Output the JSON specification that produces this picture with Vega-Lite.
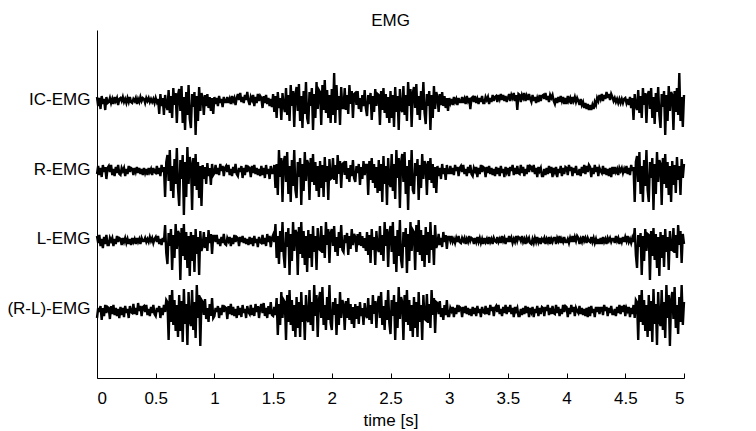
{
"$schema":"https://vega.github.io/schema/vega-lite/v6.json",
"width":587,"height":348,"autosize":"none",
"padding":{"left":97,"top":30,"right":72,"bottom":53},
"background":"white",
"title":{"text":"EMG","fontSize":17,"fontWeight":"normal","font":"Liberation Sans","color":"black","offset":0},
"config":{"view":{"stroke":null},
"axisX":{"domainColor":"black","tickColor":"black","tickSize":-5,"labelPadding":17,"labelFontSize":17,"labelFont":"Liberation Sans","labelColor":"black","titleFont":"Liberation Sans","titleFontSize":17,"titleFontWeight":"normal","titleColor":"black","grid":false,"values":[0,0.5,1,1.5,2,2.5,3,3.5,4,4.5,5],"format":"~g","titlePadding":6},
"axisY":{"domainColor":"black","ticks":false,"labelPadding":7,"labelFontSize":17,"labelFont":"Liberation Sans","labelColor":"black","grid":false}},
"datasets":{
"ch":[{"name":"IC-EMG"},{"name":"R-EMG"},{"name":"L-EMG"},{"name":"(R-L)-EMG"}],
"emg":[
{"t":0.00,"ic":0.3,"r":-0.4,"l":0.4,"rl":-0.8},
{"t":0.01,"ic":-0.6,"r":0.4,"l":-0.3,"rl":0.2},
{"t":0.02,"ic":0.2,"r":-0.5,"l":0.5,"rl":-0.2},
{"t":0.03,"ic":-0.9,"r":0.2,"l":-0.6,"rl":0.4},
{"t":0.04,"ic":0.4,"r":-0.7,"l":0.1,"rl":-1.0},
{"t":0.05,"ic":-0.4,"r":0.5,"l":-0.8,"rl":0.2},
{"t":0.06,"ic":0.1,"r":-0.2,"l":0.3,"rl":-0.6},
{"t":0.07,"ic":-1.0,"r":0.3,"l":-0.4,"rl":0.5},
{"t":0.08,"ic":0.3,"r":-0.9,"l":0.5,"rl":-0.3},
{"t":0.09,"ic":-0.3,"r":0.2,"l":-0.5,"rl":0.3},
{"t":0.10,"ic":-0.2,"r":0.4,"l":-0.5,"rl":0.2},
{"t":0.11,"ic":0.2,"r":-0.2,"l":0.2,"rl":-0.9},
{"t":0.12,"ic":-0.3,"r":0.5,"l":-0.1,"rl":0.4},
{"t":0.13,"ic":0.1,"r":-0.5,"l":0.2,"rl":-0.4},
{"t":0.14,"ic":-0.4,"r":0.1,"l":-0.6,"rl":0.5},
{"t":0.15,"ic":0.3,"r":-0.6,"l":0.1,"rl":-0.5},
{"t":0.16,"ic":-0.1,"r":0.3,"l":-0.4,"rl":0.2},
{"t":0.17,"ic":0.2,"r":-0.3,"l":0.4,"rl":-0.6},
{"t":0.18,"ic":-0.5,"r":0.5,"l":-0.2,"rl":0.1},
{"t":0.19,"ic":0.1,"r":-0.4,"l":0.2,"rl":-0.8},
{"t":0.20,"ic":0.2,"r":-0.5,"l":0.1,"rl":0.3},
{"t":0.21,"ic":-0.1,"r":0.2,"l":-0.5,"rl":-0.5},
{"t":0.22,"ic":0.3,"r":-0.1,"l":0.2,"rl":0.2},
{"t":0.23,"ic":-0.2,"r":0.2,"l":-0.2,"rl":-0.7},
{"t":0.24,"ic":0.1,"r":-0.6,"l":0.2,"rl":0.4},
{"t":0.25,"ic":-0.3,"r":0.1,"l":-0.3,"rl":-0.3},
{"t":0.26,"ic":0.2,"r":-0.4,"l":0.1,"rl":0.1},
{"t":0.27,"ic":-0.2,"r":0.4,"l":-0.4,"rl":-0.8},
{"t":0.28,"ic":0.3,"r":-0.2,"l":0.1,"rl":0.4},
{"t":0.29,"ic":-0.2,"r":0.2,"l":-0.5,"rl":-0.2},
{"t":0.30,"ic":-0.3,"r":0.1,"l":0.2,"rl":-0.3},
{"t":0.31,"ic":0.1,"r":-0.5,"l":-0.2,"rl":0.6},
{"t":0.32,"ic":-0.1,"r":0.2,"l":0.1,"rl":-0.4},
{"t":0.33,"ic":0.2,"r":-0.2,"l":-0.4,"rl":0.2},
{"t":0.34,"ic":-0.4,"r":0.3,"l":0.2,"rl":-0.5},
{"t":0.35,"ic":0.1,"r":-0.3,"l":-0.2,"rl":0.7},
{"t":0.36,"ic":-0.2,"r":0.2,"l":0.1,"rl":-0.1},
{"t":0.37,"ic":0.3,"r":-0.4,"l":-0.4,"rl":0.4},
{"t":0.38,"ic":-0.1,"r":0.1,"l":0.2,"rl":-0.6},
{"t":0.39,"ic":0.2,"r":-0.5,"l":-0.1,"rl":0.3},
{"t":0.40,"ic":0.1,"r":0.2,"l":-0.1,"rl":0.4},
{"t":0.41,"ic":-0.3,"r":-0.3,"l":0.2,"rl":-0.2},
{"t":0.42,"ic":0.2,"r":0.1,"l":-0.2,"rl":0.5},
{"t":0.43,"ic":-0.1,"r":-0.5,"l":0.1,"rl":-0.5},
{"t":0.44,"ic":0.2,"r":0.2,"l":-0.2,"rl":0.1},
{"t":0.45,"ic":-0.2,"r":-0.2,"l":0.3,"rl":-0.6},
{"t":0.46,"ic":0.1,"r":0.1,"l":-0.1,"rl":0.3},
{"t":0.47,"ic":-0.2,"r":-0.5,"l":0.2,"rl":-0.3},
{"t":0.48,"ic":0.1,"r":0.2,"l":-0.3,"rl":0.5},
{"t":0.49,"ic":-0.3,"r":-0.2,"l":0.1,"rl":-0.4},
{"t":0.50,"ic":0.2,"r":-0.3,"l":0.3,"rl":-0.6},
{"t":0.51,"ic":-0.2,"r":0.4,"l":-0.2,"rl":0.2},
{"t":0.52,"ic":0.1,"r":-0.4,"l":0.4,"rl":-0.2},
{"t":0.53,"ic":-1.4,"r":0.2,"l":-0.4,"rl":0.4},
{"t":0.54,"ic":0.6,"r":-0.6,"l":0.1,"rl":-0.8},
{"t":0.55,"ic":-0.6,"r":0.5,"l":-0.5,"rl":0.2},
{"t":0.56,"ic":0.2,"r":-0.2,"l":0.2,"rl":-0.5},
{"t":0.57,"ic":-1.5,"r":0.3,"l":-0.2,"rl":0.5},
{"t":0.58,"ic":0.5,"r":-2.7,"l":1.5,"rl":-0.2},
{"t":0.59,"ic":-0.5,"r":0.8,"l":-1.3,"rl":1.0},
{"t":0.60,"ic":-1.0,"r":1.5,"l":-2.4,"rl":0.8},
{"t":0.61,"ic":1.0,"r":-1.1,"l":0.7,"rl":-3.0},
{"t":0.62,"ic":-1.3,"r":2.0,"l":-0.6,"rl":1.5},
{"t":0.63,"ic":0.4,"r":-2.1,"l":1.1,"rl":-1.2},
{"t":0.64,"ic":-1.8,"r":0.4,"l":-3.0,"rl":2.0},
{"t":0.65,"ic":1.2,"r":-2.8,"l":0.5,"rl":-1.5},
{"t":0.66,"ic":-0.5,"r":1.1,"l":-1.8,"rl":1.0},
{"t":0.67,"ic":0.7,"r":-1.4,"l":1.6,"rl":-2.1},
{"t":0.68,"ic":-2.3,"r":2.2,"l":-0.9,"rl":0.5},
{"t":0.69,"ic":0.5,"r":-1.8,"l":0.9,"rl":-2.7},
{"t":0.70,"ic":1.1,"r":-3.6,"l":0.6,"rl":1.5},
{"t":0.71,"ic":-1.1,"r":1.0,"l":-4.0,"rl":-2.1},
{"t":0.72,"ic":1.4,"r":-0.9,"l":1.2,"rl":0.9},
{"t":0.73,"ic":-2.3,"r":1.5,"l":-1.6,"rl":-3.2},
{"t":0.74,"ic":0.3,"r":-4.5,"l":1.6,"rl":2.1},
{"t":0.75,"ic":-3.0,"r":0.8,"l":-2.0,"rl":-1.4},
{"t":0.76,"ic":0.8,"r":-2.7,"l":0.8,"rl":0.6},
{"t":0.77,"ic":-1.5,"r":2.3,"l":-2.8,"rl":-3.5},
{"t":0.78,"ic":1.5,"r":-1.4,"l":0.4,"rl":1.8},
{"t":0.79,"ic":-1.9,"r":1.3,"l":-3.6,"rl":-1.1},
{"t":0.80,"ic":-2.8,"r":0.6,"l":0.8,"rl":-1.6},
{"t":0.81,"ic":0.6,"r":-4.0,"l":-2.1,"rl":2.0},
{"t":0.82,"ic":-0.7,"r":1.2,"l":0.5,"rl":-2.0},
{"t":0.83,"ic":0.8,"r":-1.6,"l":-3.2,"rl":0.8},
{"t":0.84,"ic":-3.5,"r":1.6,"l":1.1,"rl":-2.8},
{"t":0.85,"ic":0.4,"r":-2.0,"l":-1.4,"rl":2.5},
{"t":0.86,"ic":-2.1,"r":0.8,"l":0.3,"rl":-0.8},
{"t":0.87,"ic":1.3,"r":-2.8,"l":-3.5,"rl":1.5},
{"t":0.88,"ic":-1.1,"r":0.4,"l":0.9,"rl":-3.6},
{"t":0.89,"ic":0.7,"r":-3.6,"l":-1.1,"rl":1.0},
{"t":0.90,"ic":0.2,"r":0.5,"l":-0.6,"rl":0.8},
{"t":0.91,"ic":-1.5,"r":-0.9,"l":0.8,"rl":-0.5},
{"t":0.92,"ic":0.5,"r":0.3,"l":-0.8,"rl":1.1},
{"t":0.93,"ic":-0.6,"r":-1.4,"l":0.3,"rl":-0.9},
{"t":0.94,"ic":0.6,"r":0.7,"l":-1.1,"rl":0.2},
{"t":0.95,"ic":-0.8,"r":-0.6,"l":1.0,"rl":-1.2},
{"t":0.96,"ic":0.3,"r":0.2,"l":-0.3,"rl":0.6},
{"t":0.97,"ic":-1.1,"r":-1.5,"l":0.6,"rl":-0.6},
{"t":0.98,"ic":0.2,"r":0.6,"l":-1.4,"rl":1.2},
{"t":0.99,"ic":-1.4,"r":-0.5,"l":0.4,"rl":-0.8},
{"t":1.00,"ic":0.3,"r":-0.3,"l":0.4,"rl":-0.6},
{"t":1.01,"ic":-0.4,"r":0.5,"l":-0.2,"rl":0.2},
{"t":1.02,"ic":0.2,"r":-0.4,"l":0.5,"rl":-0.2},
{"t":1.03,"ic":-0.6,"r":0.2,"l":-0.4,"rl":0.4},
{"t":1.04,"ic":0.4,"r":-0.5,"l":0.1,"rl":-0.8},
{"t":1.05,"ic":-0.3,"r":0.6,"l":-0.6,"rl":0.2},
{"t":1.06,"ic":0.1,"r":-0.1,"l":0.3,"rl":-0.5},
{"t":1.07,"ic":-0.7,"r":0.4,"l":-0.3,"rl":0.5},
{"t":1.08,"ic":0.3,"r":-0.6,"l":0.6,"rl":-0.2},
{"t":1.09,"ic":-0.2,"r":0.2,"l":-0.4,"rl":0.3},
{"t":1.10,"ic":-0.2,"r":0.4,"l":-0.5,"rl":0.2},
{"t":1.11,"ic":0.3,"r":-0.2,"l":0.2,"rl":-0.9},
{"t":1.12,"ic":-0.3,"r":0.5,"l":-0.1,"rl":0.4},
{"t":1.13,"ic":0.1,"r":-0.5,"l":0.3,"rl":-0.4},
{"t":1.14,"ic":-0.4,"r":0.1,"l":-0.6,"rl":0.6},
{"t":1.15,"ic":0.4,"r":-0.6,"l":0.2,"rl":-0.5},
{"t":1.16,"ic":-0.1,"r":0.3,"l":-0.4,"rl":0.3},
{"t":1.17,"ic":0.2,"r":-0.3,"l":0.5,"rl":-0.6},
{"t":1.18,"ic":-0.5,"r":0.6,"l":-0.2,"rl":0.1},
{"t":1.19,"ic":0.2,"r":-0.4,"l":0.3,"rl":-0.8},
{"t":1.20,"ic":0.6,"r":-0.6,"l":0.2,"rl":0.4},
{"t":1.21,"ic":0.0,"r":0.2,"l":-0.6,"rl":-0.5},
{"t":1.22,"ic":0.7,"r":-0.2,"l":0.3,"rl":0.2},
{"t":1.23,"ic":-0.2,"r":0.4,"l":-0.2,"rl":-0.7},
{"t":1.24,"ic":0.3,"r":-0.8,"l":0.4,"rl":0.5},
{"t":1.25,"ic":-0.3,"r":0.2,"l":-0.3,"rl":-0.3},
{"t":1.26,"ic":0.5,"r":-0.5,"l":0.2,"rl":0.1},
{"t":1.27,"ic":0.0,"r":0.5,"l":-0.4,"rl":-0.8},
{"t":1.28,"ic":0.8,"r":-0.2,"l":0.1,"rl":0.4},
{"t":1.29,"ic":-0.1,"r":0.3,"l":-0.5,"rl":-0.2},
{"t":1.30,"ic":-0.5,"r":0.2,"l":0.3,"rl":-0.4},
{"t":1.31,"ic":0.3,"r":-0.7,"l":-0.4,"rl":0.5},
{"t":1.32,"ic":0.0,"r":0.4,"l":0.2,"rl":-0.5},
{"t":1.33,"ic":0.5,"r":-0.3,"l":-0.6,"rl":0.2},
{"t":1.34,"ic":-0.6,"r":0.5,"l":0.4,"rl":-0.6},
{"t":1.35,"ic":0.3,"r":-0.4,"l":-0.3,"rl":0.6},
{"t":1.36,"ic":-0.3,"r":0.2,"l":0.1,"rl":-0.2},
{"t":1.37,"ic":0.6,"r":-0.5,"l":-0.7,"rl":0.4},
{"t":1.38,"ic":-0.1,"r":0.1,"l":0.3,"rl":-0.8},
{"t":1.39,"ic":0.4,"r":-0.6,"l":-0.2,"rl":0.2},
{"t":1.40,"ic":0.2,"r":0.4,"l":-0.3,"rl":0.6},
{"t":1.41,"ic":-0.8,"r":-0.5,"l":0.5,"rl":-0.3},
{"t":1.42,"ic":0.4,"r":0.2,"l":-0.4,"rl":0.7},
{"t":1.43,"ic":-0.3,"r":-0.8,"l":0.2,"rl":-0.6},
{"t":1.44,"ic":0.5,"r":0.5,"l":-0.6,"rl":0.2},
{"t":1.45,"ic":-0.4,"r":-0.4,"l":0.6,"rl":-0.8},
{"t":1.46,"ic":0.2,"r":0.1,"l":-0.2,"rl":0.4},
{"t":1.47,"ic":-0.6,"r":-0.9,"l":0.4,"rl":-0.4},
{"t":1.48,"ic":0.1,"r":0.4,"l":-0.7,"rl":0.8},
{"t":1.49,"ic":-0.7,"r":-0.3,"l":0.2,"rl":-0.5},
{"t":1.50,"ic":0.6,"r":-0.3,"l":0.5,"rl":-0.6},
{"t":1.51,"ic":-1.2,"r":0.5,"l":-0.2,"rl":0.3},
{"t":1.52,"ic":0.4,"r":-1.8,"l":1.6,"rl":-0.5},
{"t":1.53,"ic":-1.8,"r":0.6,"l":-1.8,"rl":1.2},
{"t":1.54,"ic":0.8,"r":-2.5,"l":0.4,"rl":-2.5},
{"t":1.55,"ic":-0.8,"r":2.0,"l":-2.4,"rl":0.6},
{"t":1.56,"ic":0.2,"r":-0.7,"l":0.9,"rl":-1.5},
{"t":1.57,"ic":-2.0,"r":1.2,"l":-1.2,"rl":1.8},
{"t":1.58,"ic":0.7,"r":-3.2,"l":1.8,"rl":-0.8},
{"t":1.59,"ic":-0.6,"r":0.8,"l":-1.5,"rl":1.0},
{"t":1.60,"ic":-1.2,"r":1.4,"l":-2.8,"rl":0.8},
{"t":1.61,"ic":1.2,"r":-1.2,"l":0.8,"rl":-3.0},
{"t":1.62,"ic":-1.5,"r":1.8,"l":-0.7,"rl":1.5},
{"t":1.63,"ic":0.5,"r":-2.4,"l":1.2,"rl":-1.2},
{"t":1.64,"ic":-2.1,"r":0.4,"l":-3.5,"rl":2.0},
{"t":1.65,"ic":1.5,"r":-3.2,"l":0.6,"rl":-1.5},
{"t":1.66,"ic":-0.6,"r":1.0,"l":-2.1,"rl":1.0},
{"t":1.67,"ic":0.9,"r":-1.6,"l":1.8,"rl":-2.1},
{"t":1.68,"ic":-2.7,"r":2.0,"l":-1.1,"rl":0.5},
{"t":1.69,"ic":0.6,"r":-2.0,"l":1.0,"rl":-2.7},
{"t":1.70,"ic":1.3,"r":-2.8,"l":0.7,"rl":1.3},
{"t":1.71,"ic":-1.1,"r":0.8,"l":-3.5,"rl":-1.8},
{"t":1.72,"ic":1.6,"r":-0.7,"l":1.3,"rl":0.8},
{"t":1.73,"ic":-2.1,"r":1.2,"l":-1.4,"rl":-2.7},
{"t":1.74,"ic":0.4,"r":-3.5,"l":1.8,"rl":1.8},
{"t":1.75,"ic":-2.8,"r":0.6,"l":-1.8,"rl":-1.2},
{"t":1.76,"ic":0.9,"r":-2.1,"l":0.9,"rl":0.5},
{"t":1.77,"ic":-1.4,"r":1.8,"l":-2.5,"rl":-3.0},
{"t":1.78,"ic":1.8,"r":-1.1,"l":0.4,"rl":1.5},
{"t":1.79,"ic":-1.8,"r":1.0,"l":-3.2,"rl":-0.9},
{"t":1.80,"ic":-2.4,"r":0.6,"l":1.0,"rl":-1.2},
{"t":1.81,"ic":0.8,"r":-3.0,"l":-1.8,"rl":2.0},
{"t":1.82,"ic":-0.6,"r":1.2,"l":0.6,"rl":-1.5},
{"t":1.83,"ic":1.2,"r":-1.2,"l":-2.7,"rl":0.8},
{"t":1.84,"ic":-3.0,"r":1.6,"l":1.4,"rl":-2.1},
{"t":1.85,"ic":0.6,"r":-1.5,"l":-1.2,"rl":2.5},
{"t":1.86,"ic":-1.8,"r":0.8,"l":0.4,"rl":-0.6},
{"t":1.87,"ic":1.8,"r":-2.1,"l":-3.0,"rl":1.5},
{"t":1.88,"ic":-0.9,"r":0.4,"l":1.2,"rl":-2.7},
{"t":1.89,"ic":1.0,"r":-2.7,"l":-0.9,"rl":1.0},
{"t":1.90,"ic":0.8,"r":0.9,"l":-1.0,"rl":1.8},
{"t":1.91,"ic":-2.5,"r":-1.8,"l":1.4,"rl":-0.8},
{"t":1.92,"ic":1.5,"r":0.5,"l":-1.3,"rl":2.3},
{"t":1.93,"ic":-1.0,"r":-2.7,"l":0.5,"rl":-1.5},
{"t":1.94,"ic":2.0,"r":1.3,"l":-1.8,"rl":0.5},
{"t":1.95,"ic":-1.3,"r":-1.2,"l":1.8,"rl":-2.0},
{"t":1.96,"ic":1.0,"r":0.4,"l":-0.5,"rl":1.3},
{"t":1.97,"ic":-1.8,"r":-3.0,"l":1.1,"rl":-1.0},
{"t":1.98,"ic":0.5,"r":1.1,"l":-2.3,"rl":2.5},
{"t":1.99,"ic":-2.3,"r":-0.9,"l":0.7,"rl":-1.3},
{"t":2.00,"ic":1.1,"r":-0.8,"l":1.1,"rl":-2.0},
{"t":2.01,"ic":-1.5,"r":1.2,"l":-0.6,"rl":0.8},
{"t":2.02,"ic":2.7,"r":-1.0,"l":1.4,"rl":-0.5},
{"t":2.03,"ic":-2.3,"r":0.5,"l":-1.2,"rl":1.2},
{"t":2.04,"ic":1.5,"r":-1.4,"l":0.3,"rl":-2.5},
{"t":2.05,"ic":-1.0,"r":1.5,"l":-1.6,"rl":0.6},
{"t":2.06,"ic":0.4,"r":-0.4,"l":0.8,"rl":-1.5},
{"t":2.07,"ic":-2.5,"r":0.9,"l":-0.8,"rl":1.8},
{"t":2.08,"ic":1.3,"r":-1.8,"l":1.5,"rl":-0.8},
{"t":2.09,"ic":-0.8,"r":0.6,"l":-1.0,"rl":1.0},
{"t":2.10,"ic":-0.8,"r":0.7,"l":-1.2,"rl":0.5},
{"t":2.11,"ic":1.2,"r":-0.5,"l":0.5,"rl":-2.0},
{"t":2.12,"ic":-1.0,"r":0.9,"l":-0.3,"rl":0.9},
{"t":2.13,"ic":0.5,"r":-0.9,"l":0.7,"rl":-0.8},
{"t":2.14,"ic":-1.4,"r":0.2,"l":-1.5,"rl":1.2},
{"t":2.15,"ic":1.5,"r":-1.2,"l":0.4,"rl":-1.0},
{"t":2.16,"ic":-0.4,"r":0.5,"l":-0.9,"rl":0.6},
{"t":2.17,"ic":0.9,"r":-0.6,"l":1.1,"rl":-1.4},
{"t":2.18,"ic":-1.8,"r":1.0,"l":-0.5,"rl":0.3},
{"t":2.19,"ic":0.6,"r":-0.8,"l":0.6,"rl":-1.8},
{"t":2.20,"ic":0.7,"r":-1.2,"l":0.3,"rl":0.6},
{"t":2.21,"ic":-0.5,"r":0.4,"l":-1.2,"rl":-0.9},
{"t":2.22,"ic":0.9,"r":-0.3,"l":0.6,"rl":0.4},
{"t":2.23,"ic":-0.9,"r":0.6,"l":-0.5,"rl":-1.4},
{"t":2.24,"ic":0.2,"r":-1.5,"l":0.8,"rl":0.8},
{"t":2.25,"ic":-1.2,"r":0.3,"l":-0.6,"rl":-0.6},
{"t":2.26,"ic":0.5,"r":-0.9,"l":0.4,"rl":0.2},
{"t":2.27,"ic":-0.6,"r":0.9,"l":-0.8,"rl":-1.5},
{"t":2.28,"ic":1.0,"r":-0.5,"l":0.2,"rl":0.7},
{"t":2.29,"ic":-0.8,"r":0.5,"l":-1.1,"rl":-0.5},
{"t":2.30,"ic":-1.6,"r":0.5,"l":0.8,"rl":-0.8},
{"t":2.31,"ic":0.5,"r":-2.5,"l":-1.5,"rl":1.2},
{"t":2.32,"ic":-0.4,"r":0.9,"l":0.5,"rl":-1.0},
{"t":2.33,"ic":0.7,"r":-1.0,"l":-2.3,"rl":0.5},
{"t":2.34,"ic":-2.0,"r":1.2,"l":1.1,"rl":-1.4},
{"t":2.35,"ic":0.4,"r":-1.3,"l":-1.0,"rl":1.5},
{"t":2.36,"ic":-1.2,"r":0.6,"l":0.3,"rl":-0.4},
{"t":2.37,"ic":1.1,"r":-1.8,"l":-2.5,"rl":0.9},
{"t":2.38,"ic":-0.6,"r":0.3,"l":0.9,"rl":-1.8},
{"t":2.39,"ic":0.6,"r":-2.3,"l":-0.8,"rl":0.6},
{"t":2.40,"ic":0.5,"r":1.0,"l":-1.2,"rl":1.4},
{"t":2.41,"ic":-2.5,"r":-2.1,"l":1.4,"rl":-0.8},
{"t":2.42,"ic":0.9,"r":0.6,"l":-1.5,"rl":1.8},
{"t":2.43,"ic":-1.0,"r":-3.2,"l":0.5,"rl":-1.5},
{"t":2.44,"ic":1.2,"r":1.4,"l":-2.1,"rl":0.4},
{"t":2.45,"ic":-1.3,"r":-1.4,"l":1.8,"rl":-2.0},
{"t":2.46,"ic":0.6,"r":0.4,"l":-0.6,"rl":1.0},
{"t":2.47,"ic":-1.8,"r":-3.5,"l":1.1,"rl":-1.0},
{"t":2.48,"ic":0.3,"r":1.2,"l":-2.7,"rl":2.0},
{"t":2.49,"ic":-2.3,"r":-1.1,"l":0.7,"rl":-1.3},
{"t":2.50,"ic":0.9,"r":-1.7,"l":1.4,"rl":-2.4},
{"t":2.51,"ic":-1.8,"r":1.6,"l":-1.2,"rl":1.0},
{"t":2.52,"ic":0.5,"r":-2.1,"l":1.8,"rl":-0.6},
{"t":2.53,"ic":-2.7,"r":0.6,"l":-2.4,"rl":1.5},
{"t":2.54,"ic":1.3,"r":-2.9,"l":0.4,"rl":-3.0},
{"t":2.55,"ic":-1.2,"r":2.0,"l":-3.2,"rl":0.8},
{"t":2.56,"ic":0.4,"r":-0.8,"l":1.0,"rl":-1.8},
{"t":2.57,"ic":-3.0,"r":1.2,"l":-1.6,"rl":2.3},
{"t":2.58,"ic":1.1,"r":-3.8,"l":2.0,"rl":-0.9},
{"t":2.59,"ic":-0.9,"r":0.8,"l":-2.0,"rl":1.3},
{"t":2.60,"ic":-1.2,"r":1.6,"l":-2.8,"rl":0.8},
{"t":2.61,"ic":1.4,"r":-1.2,"l":0.8,"rl":-3.0},
{"t":2.62,"ic":-1.5,"r":1.8,"l":-0.7,"rl":1.5},
{"t":2.63,"ic":0.5,"r":-2.4,"l":1.2,"rl":-1.2},
{"t":2.64,"ic":-2.1,"r":0.4,"l":-3.3,"rl":2.0},
{"t":2.65,"ic":1.8,"r":-4.0,"l":0.6,"rl":-1.5},
{"t":2.66,"ic":-0.6,"r":1.0,"l":-2.1,"rl":1.0},
{"t":2.67,"ic":1.1,"r":-1.6,"l":1.8,"rl":-2.1},
{"t":2.68,"ic":-2.7,"r":2.0,"l":-1.1,"rl":0.5},
{"t":2.69,"ic":0.7,"r":-2.0,"l":1.0,"rl":-2.7},
{"t":2.70,"ic":1.3,"r":-2.4,"l":0.8,"rl":1.3},
{"t":2.71,"ic":-0.8,"r":0.7,"l":-3.0,"rl":-1.8},
{"t":2.72,"ic":1.6,"r":-0.6,"l":1.5,"rl":0.8},
{"t":2.73,"ic":-1.5,"r":1.1,"l":-1.2,"rl":-2.7},
{"t":2.74,"ic":0.4,"r":-3.0,"l":2.0,"rl":1.8},
{"t":2.75,"ic":-2.0,"r":0.5,"l":-1.5,"rl":-1.2},
{"t":2.76,"ic":0.9,"r":-1.8,"l":1.0,"rl":0.5},
{"t":2.77,"ic":-1.0,"r":1.6,"l":-2.1,"rl":-3.0},
{"t":2.78,"ic":1.8,"r":-0.9,"l":0.5,"rl":1.5},
{"t":2.79,"ic":-1.3,"r":0.9,"l":-2.7,"rl":-0.9},
{"t":2.80,"ic":-2.4,"r":0.5,"l":1.3,"rl":-1.0},
{"t":2.81,"ic":0.6,"r":-2.5,"l":-1.5,"rl":1.6},
{"t":2.82,"ic":-0.6,"r":0.9,"l":0.8,"rl":-1.3},
{"t":2.83,"ic":0.9,"r":-1.0,"l":-2.3,"rl":0.6},
{"t":2.84,"ic":-3.0,"r":1.2,"l":1.8,"rl":-1.8},
{"t":2.85,"ic":0.5,"r":-1.3,"l":-1.0,"rl":2.0},
{"t":2.86,"ic":-1.8,"r":0.6,"l":0.5,"rl":-0.5},
{"t":2.87,"ic":1.4,"r":-1.8,"l":-2.5,"rl":1.2},
{"t":2.88,"ic":-0.9,"r":0.3,"l":1.5,"rl":-2.3},
{"t":2.89,"ic":0.8,"r":-2.3,"l":-0.8,"rl":0.8},
{"t":2.90,"ic":0.3,"r":0.4,"l":-0.4,"rl":0.7},
{"t":2.91,"ic":-1.2,"r":-0.6,"l":0.6,"rl":-0.4},
{"t":2.92,"ic":0.6,"r":0.2,"l":-0.5,"rl":0.9},
{"t":2.93,"ic":-0.5,"r":-0.9,"l":0.2,"rl":-0.7},
{"t":2.94,"ic":0.8,"r":0.6,"l":-0.7,"rl":0.2},
{"t":2.95,"ic":-0.6,"r":-0.4,"l":0.8,"rl":-1.0},
{"t":2.96,"ic":0.4,"r":0.2,"l":-0.2,"rl":0.5},
{"t":2.97,"ic":-0.8,"r":-1.0,"l":0.5,"rl":-0.5},
{"t":2.98,"ic":0.2,"r":0.5,"l":-0.9,"rl":1.0},
{"t":2.99,"ic":-1.1,"r":-0.3,"l":0.3,"rl":-0.6},
{"t":3.00,"ic":0.2,"r":-0.3,"l":0.3,"rl":-0.6},
{"t":3.01,"ic":-0.3,"r":0.4,"l":-0.1,"rl":0.2},
{"t":3.02,"ic":0.1,"r":-0.4,"l":0.4,"rl":-0.1},
{"t":3.03,"ic":-0.5,"r":0.2,"l":-0.2,"rl":0.3},
{"t":3.04,"ic":0.3,"r":-0.5,"l":0.1,"rl":-0.7},
{"t":3.05,"ic":-0.2,"r":0.5,"l":-0.3,"rl":0.2},
{"t":3.06,"ic":0.1,"r":-0.1,"l":0.2,"rl":-0.4},
{"t":3.07,"ic":-0.5,"r":0.3,"l":-0.2,"rl":0.5},
{"t":3.08,"ic":0.2,"r":-0.6,"l":0.4,"rl":-0.2},
{"t":3.09,"ic":-0.2,"r":0.2,"l":-0.2,"rl":0.3},
{"t":3.10,"ic":-0.2,"r":0.4,"l":-0.3,"rl":0.2},
{"t":3.11,"ic":0.3,"r":-0.2,"l":0.2,"rl":-0.7},
{"t":3.12,"ic":-0.3,"r":0.5,"l":-0.1,"rl":0.3},
{"t":3.13,"ic":0.1,"r":-0.4,"l":0.2,"rl":-0.3},
{"t":3.14,"ic":-0.4,"r":0.1,"l":-0.4,"rl":0.4},
{"t":3.15,"ic":0.4,"r":-0.6,"l":0.1,"rl":-0.4},
{"t":3.16,"ic":-0.1,"r":0.3,"l":-0.2,"rl":0.2},
{"t":3.17,"ic":0.2,"r":-0.3,"l":0.4,"rl":-0.5},
{"t":3.18,"ic":-0.9,"r":0.5,"l":-0.1,"rl":0.1},
{"t":3.19,"ic":0.2,"r":-0.4,"l":0.2,"rl":-0.6},
{"t":3.20,"ic":0.3,"r":-0.6,"l":0.1,"rl":0.3},
{"t":3.21,"ic":-0.2,"r":0.2,"l":-0.4,"rl":-0.4},
{"t":3.22,"ic":0.4,"r":-0.1,"l":0.2,"rl":0.2},
{"t":3.23,"ic":-0.3,"r":0.3,"l":-0.2,"rl":-0.6},
{"t":3.24,"ic":0.1,"r":-0.7,"l":0.3,"rl":0.4},
{"t":3.25,"ic":-0.4,"r":0.2,"l":-0.2,"rl":-0.3},
{"t":3.26,"ic":0.2,"r":-0.4,"l":0.2,"rl":0.1},
{"t":3.27,"ic":-0.2,"r":0.5,"l":-0.3,"rl":-0.7},
{"t":3.28,"ic":0.4,"r":-0.2,"l":0.1,"rl":0.3},
{"t":3.29,"ic":-0.3,"r":0.3,"l":-0.4,"rl":-0.2},
{"t":3.30,"ic":-0.3,"r":0.2,"l":0.2,"rl":-0.3},
{"t":3.31,"ic":0.3,"r":-0.7,"l":-0.2,"rl":0.4},
{"t":3.32,"ic":0.0,"r":0.3,"l":0.1,"rl":-0.4},
{"t":3.33,"ic":0.3,"r":-0.3,"l":-0.4,"rl":0.2},
{"t":3.34,"ic":-0.4,"r":0.4,"l":0.3,"rl":-0.5},
{"t":3.35,"ic":0.2,"r":-0.4,"l":-0.2,"rl":0.5},
{"t":3.36,"ic":-0.2,"r":0.2,"l":0.1,"rl":-0.1},
{"t":3.37,"ic":0.5,"r":-0.5,"l":-0.4,"rl":0.3},
{"t":3.38,"ic":-0.1,"r":0.1,"l":0.2,"rl":-0.6},
{"t":3.39,"ic":0.3,"r":-0.6,"l":-0.1,"rl":0.2},
{"t":3.40,"ic":0.4,"r":0.3,"l":-0.2,"rl":0.4},
{"t":3.41,"ic":-0.2,"r":-0.4,"l":0.3,"rl":-0.2},
{"t":3.42,"ic":0.5,"r":0.2,"l":-0.2,"rl":0.5},
{"t":3.43,"ic":0.1,"r":-0.6,"l":0.1,"rl":-0.4},
{"t":3.44,"ic":0.6,"r":0.4,"l":-0.3,"rl":0.1},
{"t":3.45,"ic":0.0,"r":-0.3,"l":0.4,"rl":-0.6},
{"t":3.46,"ic":0.5,"r":0.1,"l":-0.1,"rl":0.3},
{"t":3.47,"ic":-0.1,"r":-0.7,"l":0.2,"rl":-0.3},
{"t":3.48,"ic":0.4,"r":0.3,"l":-0.4,"rl":0.5},
{"t":3.49,"ic":-0.2,"r":-0.2,"l":0.2,"rl":-0.4},
{"t":3.50,"ic":0.2,"r":0.2,"l":-0.2,"rl":0.3},
{"t":3.51,"ic":0.6,"r":-0.6,"l":0.4,"rl":-0.2},
{"t":3.52,"ic":-0.1,"r":0.3,"l":-0.2,"rl":0.5},
{"t":3.53,"ic":0.5,"r":-0.1,"l":0.2,"rl":-0.4},
{"t":3.54,"ic":0.2,"r":0.5,"l":-0.3,"rl":0.2},
{"t":3.55,"ic":0.7,"r":-0.5,"l":0.1,"rl":-0.7},
{"t":3.56,"ic":-0.1,"r":0.2,"l":-0.2,"rl":0.3},
{"t":3.57,"ic":0.5,"r":-0.4,"l":0.4,"rl":-0.1},
{"t":3.58,"ic":-1.0,"r":0.4,"l":-0.1,"rl":0.2},
{"t":3.59,"ic":0.6,"r":-0.3,"l":0.3,"rl":-0.6},
{"t":3.60,"ic":0.5,"r":-0.4,"l":0.2,"rl":-0.6},
{"t":3.61,"ic":-0.2,"r":0.5,"l":-0.1,"rl":0.1},
{"t":3.62,"ic":0.5,"r":-0.3,"l":0.4,"rl":-0.5},
{"t":3.63,"ic":0.2,"r":0.3,"l":-0.2,"rl":0.2},
{"t":3.64,"ic":0.7,"r":-0.6,"l":0.1,"rl":-0.4},
{"t":3.65,"ic":-0.1,"r":0.1,"l":-0.4,"rl":0.4},
{"t":3.66,"ic":0.4,"r":-0.4,"l":0.2,"rl":-0.3},
{"t":3.67,"ic":0.0,"r":0.5,"l":-0.1,"rl":0.3},
{"t":3.68,"ic":0.6,"r":-0.2,"l":0.2,"rl":-0.7},
{"t":3.69,"ic":0.1,"r":0.4,"l":-0.3,"rl":0.2},
{"t":3.70,"ic":-0.2,"r":0.3,"l":-0.4,"rl":-0.2},
{"t":3.71,"ic":0.5,"r":-0.2,"l":0.1,"rl":0.3},
{"t":3.72,"ic":-0.1,"r":0.5,"l":-0.3,"rl":-0.7},
{"t":3.73,"ic":0.3,"r":-0.4,"l":0.2,"rl":0.1},
{"t":3.74,"ic":-0.3,"r":0.2,"l":-0.2,"rl":-0.3},
{"t":3.75,"ic":0.2,"r":-0.7,"l":0.3,"rl":0.4},
{"t":3.76,"ic":-0.2,"r":0.3,"l":-0.2,"rl":-0.6},
{"t":3.77,"ic":0.5,"r":-0.1,"l":0.2,"rl":0.2},
{"t":3.78,"ic":-0.1,"r":0.2,"l":-0.4,"rl":-0.4},
{"t":3.79,"ic":0.4,"r":-0.6,"l":0.1,"rl":0.3},
{"t":3.80,"ic":0.5,"r":-0.6,"l":-0.1,"rl":0.2},
{"t":3.81,"ic":0.1,"r":0.1,"l":0.2,"rl":-0.6},
{"t":3.82,"ic":0.7,"r":-0.5,"l":-0.4,"rl":0.3},
{"t":3.83,"ic":0.0,"r":0.2,"l":0.1,"rl":-0.1},
{"t":3.84,"ic":0.4,"r":-0.4,"l":-0.2,"rl":0.5},
{"t":3.85,"ic":-0.2,"r":0.4,"l":0.3,"rl":-0.5},
{"t":3.86,"ic":0.5,"r":-0.3,"l":-0.4,"rl":0.2},
{"t":3.87,"ic":0.2,"r":0.3,"l":0.1,"rl":-0.4},
{"t":3.88,"ic":0.5,"r":-0.7,"l":-0.2,"rl":0.4},
{"t":3.89,"ic":-0.1,"r":0.2,"l":0.2,"rl":-0.3},
{"t":3.90,"ic":-0.4,"r":-0.2,"l":0.2,"rl":-0.4},
{"t":3.91,"ic":0.2,"r":0.3,"l":-0.4,"rl":0.5},
{"t":3.92,"ic":-0.3,"r":-0.7,"l":0.2,"rl":-0.3},
{"t":3.93,"ic":0.3,"r":0.1,"l":-0.1,"rl":0.3},
{"t":3.94,"ic":-0.2,"r":-0.3,"l":0.4,"rl":-0.6},
{"t":3.95,"ic":0.4,"r":0.4,"l":-0.3,"rl":0.1},
{"t":3.96,"ic":-0.1,"r":-0.6,"l":0.1,"rl":-0.4},
{"t":3.97,"ic":0.3,"r":0.2,"l":-0.2,"rl":0.5},
{"t":3.98,"ic":-0.4,"r":-0.4,"l":0.3,"rl":-0.2},
{"t":3.99,"ic":0.2,"r":0.3,"l":-0.2,"rl":0.4},
{"t":4.00,"ic":-0.4,"r":0.2,"l":-0.2,"rl":0.3},
{"t":4.01,"ic":0.4,"r":-0.5,"l":0.1,"rl":-0.7},
{"t":4.02,"ic":-0.1,"r":0.5,"l":-0.3,"rl":0.2},
{"t":4.03,"ic":0.2,"r":-0.1,"l":0.2,"rl":-0.4},
{"t":4.04,"ic":-0.4,"r":0.3,"l":-0.2,"rl":0.5},
{"t":4.05,"ic":0.3,"r":-0.6,"l":0.4,"rl":-0.2},
{"t":4.06,"ic":-0.1,"r":0.2,"l":-0.2,"rl":0.3},
{"t":4.07,"ic":0.3,"r":-0.3,"l":0.3,"rl":-0.6},
{"t":4.08,"ic":-0.2,"r":0.4,"l":-0.1,"rl":0.2},
{"t":4.09,"ic":0.2,"r":-0.4,"l":0.4,"rl":-0.1},
{"t":4.10,"ic":-0.1,"r":-0.4,"l":0.2,"rl":-0.3},
{"t":4.11,"ic":-0.5,"r":0.1,"l":-0.4,"rl":0.4},
{"t":4.12,"ic":0.1,"r":-0.6,"l":0.1,"rl":-0.4},
{"t":4.13,"ic":-0.5,"r":0.3,"l":-0.2,"rl":0.2},
{"t":4.14,"ic":-0.2,"r":-0.3,"l":0.4,"rl":-0.5},
{"t":4.15,"ic":-0.8,"r":0.5,"l":-0.1,"rl":0.1},
{"t":4.16,"ic":-0.3,"r":-0.4,"l":0.2,"rl":-0.6},
{"t":4.17,"ic":-0.9,"r":0.4,"l":-0.3,"rl":0.2},
{"t":4.18,"ic":-0.4,"r":-0.2,"l":0.2,"rl":-0.7},
{"t":4.19,"ic":-1.0,"r":0.5,"l":-0.1,"rl":0.3},
{"t":4.20,"ic":-0.5,"r":0.3,"l":-0.2,"rl":-0.6},
{"t":4.21,"ic":-1.0,"r":-0.7,"l":0.3,"rl":0.4},
{"t":4.22,"ic":-0.5,"r":0.2,"l":-0.2,"rl":-0.3},
{"t":4.23,"ic":-0.9,"r":-0.4,"l":0.2,"rl":0.1},
{"t":4.24,"ic":-0.2,"r":0.5,"l":-0.3,"rl":-0.7},
{"t":4.25,"ic":-0.5,"r":-0.2,"l":0.1,"rl":0.3},
{"t":4.26,"ic":0.2,"r":0.3,"l":-0.4,"rl":-0.2},
{"t":4.27,"ic":-0.1,"r":-0.6,"l":0.1,"rl":0.3},
{"t":4.28,"ic":0.5,"r":0.2,"l":-0.4,"rl":-0.4},
{"t":4.29,"ic":0.1,"r":-0.1,"l":0.2,"rl":0.2},
{"t":4.30,"ic":0.6,"r":-0.3,"l":-0.4,"rl":0.2},
{"t":4.31,"ic":-0.1,"r":0.4,"l":0.3,"rl":-0.5},
{"t":4.32,"ic":0.5,"r":-0.4,"l":-0.2,"rl":0.5},
{"t":4.33,"ic":0.1,"r":0.2,"l":0.1,"rl":-0.1},
{"t":4.34,"ic":0.8,"r":-0.5,"l":-0.4,"rl":0.3},
{"t":4.35,"ic":0.2,"r":0.1,"l":0.2,"rl":-0.6},
{"t":4.36,"ic":0.6,"r":-0.6,"l":-0.1,"rl":0.2},
{"t":4.37,"ic":0.0,"r":0.2,"l":0.2,"rl":-0.3},
{"t":4.38,"ic":0.6,"r":-0.7,"l":-0.2,"rl":0.4},
{"t":4.39,"ic":0.3,"r":0.3,"l":0.1,"rl":-0.4},
{"t":4.40,"ic":-0.1,"r":-0.4,"l":0.1,"rl":-0.4},
{"t":4.41,"ic":0.2,"r":0.3,"l":-0.3,"rl":0.1},
{"t":4.42,"ic":-0.2,"r":-0.2,"l":0.4,"rl":-0.6},
{"t":4.43,"ic":0.1,"r":0.1,"l":-0.1,"rl":0.3},
{"t":4.44,"ic":-0.3,"r":-0.5,"l":0.2,"rl":-0.3},
{"t":4.45,"ic":0.1,"r":0.2,"l":-0.4,"rl":0.5},
{"t":4.46,"ic":-0.3,"r":-0.1,"l":0.2,"rl":-0.4},
{"t":4.47,"ic":0.1,"r":0.2,"l":-0.2,"rl":0.4},
{"t":4.48,"ic":-0.3,"r":-0.3,"l":0.3,"rl":-0.2},
{"t":4.49,"ic":0.1,"r":0.1,"l":-0.2,"rl":0.5},
{"t":4.50,"ic":0.2,"r":-0.3,"l":0.3,"rl":-0.6},
{"t":4.51,"ic":-0.3,"r":0.4,"l":-0.1,"rl":0.2},
{"t":4.52,"ic":0.1,"r":-0.4,"l":0.4,"rl":-0.1},
{"t":4.53,"ic":-0.5,"r":0.2,"l":-0.2,"rl":0.3},
{"t":4.54,"ic":0.3,"r":-0.5,"l":0.1,"rl":-0.7},
{"t":4.55,"ic":-0.8,"r":0.5,"l":-0.3,"rl":0.2},
{"t":4.56,"ic":0.2,"r":-0.1,"l":0.2,"rl":-0.4},
{"t":4.57,"ic":-2.0,"r":0.3,"l":-0.2,"rl":0.5},
{"t":4.58,"ic":0.6,"r":-3.2,"l":1.2,"rl":-0.8},
{"t":4.59,"ic":-0.6,"r":0.8,"l":-1.5,"rl":1.0},
{"t":4.60,"ic":-1.0,"r":1.4,"l":-2.8,"rl":0.8},
{"t":4.61,"ic":1.0,"r":-1.2,"l":0.5,"rl":-3.0},
{"t":4.62,"ic":-1.3,"r":1.8,"l":-0.7,"rl":1.5},
{"t":4.63,"ic":0.4,"r":-2.4,"l":0.7,"rl":-1.2},
{"t":4.64,"ic":-1.8,"r":0.4,"l":-3.5,"rl":2.0},
{"t":4.65,"ic":1.2,"r":-3.2,"l":0.4,"rl":-1.5},
{"t":4.66,"ic":-0.5,"r":1.0,"l":-2.1,"rl":1.0},
{"t":4.67,"ic":0.7,"r":-1.6,"l":1.1,"rl":-2.1},
{"t":4.68,"ic":-2.3,"r":2.0,"l":-1.1,"rl":0.5},
{"t":4.69,"ic":0.5,"r":-2.0,"l":0.6,"rl":-2.7},
{"t":4.70,"ic":0.9,"r":-3.2,"l":0.5,"rl":1.5},
{"t":4.71,"ic":-0.9,"r":0.8,"l":-4.0,"rl":-2.1},
{"t":4.72,"ic":1.2,"r":-0.8,"l":0.9,"rl":0.9},
{"t":4.73,"ic":-1.8,"r":1.2,"l":-1.6,"rl":-3.2},
{"t":4.74,"ic":0.3,"r":-4.0,"l":1.2,"rl":2.1},
{"t":4.75,"ic":-2.4,"r":0.6,"l":-2.0,"rl":-1.4},
{"t":4.76,"ic":0.7,"r":-2.4,"l":0.6,"rl":0.6},
{"t":4.77,"ic":-1.2,"r":1.8,"l":-2.8,"rl":-3.5},
{"t":4.78,"ic":1.3,"r":-1.2,"l":0.3,"rl":1.8},
{"t":4.79,"ic":-1.5,"r":1.0,"l":-3.6,"rl":-1.1},
{"t":4.80,"ic":-2.8,"r":0.6,"l":0.8,"rl":-1.6},
{"t":4.81,"ic":0.6,"r":-3.5,"l":-1.8,"rl":2.0},
{"t":4.82,"ic":-0.7,"r":1.2,"l":0.5,"rl":-2.0},
{"t":4.83,"ic":0.9,"r":-1.4,"l":-2.7,"rl":0.8},
{"t":4.84,"ic":-3.5,"r":1.6,"l":1.1,"rl":-2.8},
{"t":4.85,"ic":0.5,"r":-1.8,"l":-1.2,"rl":2.5},
{"t":4.86,"ic":-2.1,"r":0.8,"l":0.3,"rl":-0.8},
{"t":4.87,"ic":1.4,"r":-2.5,"l":-3.0,"rl":1.5},
{"t":4.88,"ic":-1.1,"r":0.4,"l":0.9,"rl":-3.6},
{"t":4.89,"ic":0.8,"r":-3.2,"l":-0.9,"rl":1.0},
{"t":4.90,"ic":0.5,"r":0.9,"l":-1.0,"rl":1.8},
{"t":4.91,"ic":-3.0,"r":-1.5,"l":1.2,"rl":-0.9},
{"t":4.92,"ic":0.9,"r":0.5,"l":-1.3,"rl":2.3},
{"t":4.93,"ic":-1.2,"r":-2.3,"l":0.5,"rl":-1.8},
{"t":4.94,"ic":1.2,"r":1.3,"l":-1.8,"rl":0.5},
{"t":4.95,"ic":-1.5,"r":-1.0,"l":1.5,"rl":-2.4},
{"t":4.96,"ic":2.7,"r":0.4,"l":-0.5,"rl":1.3},
{"t":4.97,"ic":-2.1,"r":-2.5,"l":0.9,"rl":-1.2},
{"t":4.98,"ic":0.3,"r":1.1,"l":-2.3,"rl":2.5},
{"t":4.99,"ic":-2.7,"r":-0.8,"l":0.6,"rl":-1.5},
{"t":5.00,"ic":0.5,"r":0.6,"l":-0.4,"rl":0.8}
]},
"resolve":{"scale":{"y":"independent"}},
"layer":[
{"data":{"name":"emg"},"mark":{"type":"line","color":"black","strokeWidth":2.4},
 "encoding":{"x":{"field":"t","type":"quantitative","scale":{"domain":[0,5]},"title":"time [s]"},
 "y":{"field":"ic","type":"quantitative","scale":{"domain":[-27.8,7]},"axis":null}}},
{"data":{"name":"emg"},"mark":{"type":"line","color":"black","strokeWidth":2.4},
 "encoding":{"x":{"field":"t","type":"quantitative","scale":{"domain":[0,5]},"title":"time [s]"},
 "y":{"field":"r","type":"quantitative","scale":{"domain":[-20.8,14]},"axis":null}}},
{"data":{"name":"emg"},"mark":{"type":"line","color":"black","strokeWidth":2.4},
 "encoding":{"x":{"field":"t","type":"quantitative","scale":{"domain":[0,5]},"title":"time [s]"},
 "y":{"field":"l","type":"quantitative","scale":{"domain":[-13.8,21]},"axis":null}}},
{"data":{"name":"emg"},"mark":{"type":"line","color":"black","strokeWidth":2.4},
 "encoding":{"x":{"field":"t","type":"quantitative","scale":{"domain":[0,5]},"title":"time [s]"},
 "y":{"field":"rl","type":"quantitative","scale":{"domain":[-6.8,28]},"axis":null}}},
{"data":{"name":"ch"},"mark":{"type":"point","opacity":0},
 "encoding":{"y":{"field":"name","type":"nominal","sort":null,"scale":{"type":"point","padding":1},"axis":{"orient":"left","title":null}}}}
]
}
